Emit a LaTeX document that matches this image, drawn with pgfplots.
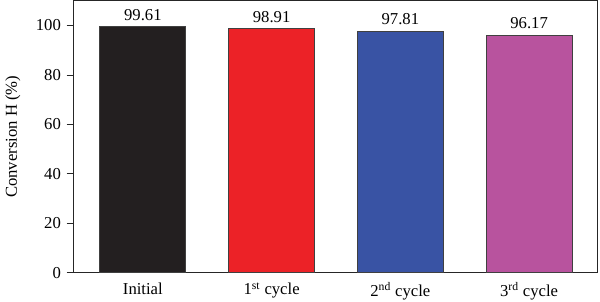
\documentclass[border=0pt]{standalone}
\usepackage{pgfplots}
\pgfplotsset{compat=1.18}
\usepackage{fontspec}
\setmainfont{Liberation Serif}
\definecolor{cblack}{HTML}{231F20}
\definecolor{cred}{HTML}{EC2227}
\definecolor{cblue}{HTML}{3953A4}
\definecolor{cmag}{HTML}{B8539E}
\begin{document}
\fontsize{12.5}{15}\selectfont
\begin{tikzpicture}
\begin{axis}[
  scale only axis, width=393pt, height=204pt,
  xmin=-0.54, xmax=3.53, ymin=0, ymax=110,
  ytick={0,20,40,60,80,100},
  xtick={0,1,2,3},
  xticklabels={Initial, 1\textsuperscript{st} cycle, 2\textsuperscript{nd} cycle, 3\textsuperscript{rd} cycle},
  major x tick style={draw=none},
  tick align=outside, ytick pos=left, major tick length=5pt,
  ylabel={Conversion H (\%)},
  ylabel style={yshift=3pt},
  xticklabel style={yshift=2pt},
  axis line style={line width=0.8pt, color=black!85},
  tick style={line width=0.6pt, color=black!85},
  /pgf/number format/assume math mode=true,
  tick label style={font=\fontsize{12.5}{15}\selectfont},
  label style={font=\fontsize{12.5}{15}\selectfont},
  ybar, bar width=64.5pt, bar shift=0pt,
  nodes near coords,
  nodes near coords style={font=\fontsize{12.5}{15}\selectfont, /pgf/number format/fixed, /pgf/number format/precision=2, /pgf/number format/fixed zerofill, /pgf/number format/assume math mode=true},
]
\addplot[fill=cblack, draw=black!75, line width=0.6pt] coordinates {(0,99.61)};
\addplot[fill=cred, draw=black!75, line width=0.6pt] coordinates {(1,98.91)};
\addplot[fill=cblue, draw=black!75, line width=0.6pt] coordinates {(2,97.81)};
\addplot[fill=cmag, draw=black!75, line width=0.6pt] coordinates {(3,96.17)};
\end{axis}
\pgfresetboundingbox
\path (current axis.south west) ++(-55pt,-21.75pt) coordinate (a);
\path (current axis.north east) ++(2pt,0.6pt) coordinate (b);
\path (a) rectangle (b);
\end{tikzpicture}
\end{document}
